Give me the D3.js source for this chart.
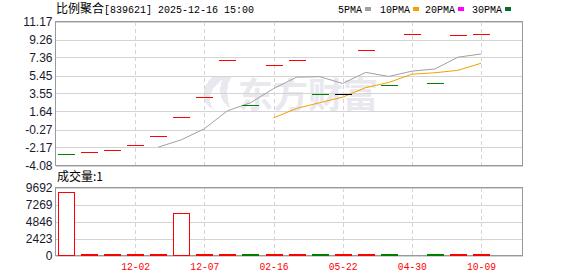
<!DOCTYPE html>
<html>
<head>
<meta charset="utf-8">
<script src="https://cdn.jsdelivr.net/npm/d3@7"></script>
<style>
  body { margin: 0; background: #fff; }
  svg { display: block; }
</style>
</head>
<body>
<div id="chart"></div>
<script>
// 每个交易日的收盘价（这里开高低收都一样，画成一条横线）
const closes = [-2.84, -2.63, -2.42, -1.89, -0.93, 1.08, 3.20, 7.11, 2.35, 6.58,
  7.11, 3.51, 3.51, 8.17, 4.47, 9.87, 4.68, 9.76, 9.87];
// 1 = 涨, -1 = 跌, 0 = 平
const candleDir = [-1, 1, 1, 1, 1, 1, 1, 1, -1, 1, 1, -1, 0, 1, -1, 1, -1, 1, 1];
const ma5 = [null, null, null, null, -2.14, -1.36, -0.19, 1.71, 2.56, 4.06,
  5.27, 5.33, 4.61, 5.78, 5.35, 5.91, 6.14, 7.39, 7.73];
const ma10 = [null, null, null, null, null, null, null, null, null, 0.96,
  1.96, 2.57, 3.16, 4.17, 4.71, 5.59, 5.74, 6.00, 6.75];
const volumes = [9080, 40, 40, 40, 40, 6040, 40, 40, 40, 40,
  40, 40, 40, 40, 40, 0, 40, 40, 40];
const volDir = [1, 1, 1, 1, 1, 1, 1, 1, -1, 1, 1, -1, 1, 1, -1, 1, -1, 1, 1];

const priceTicks = [11.17, 9.26, 7.36, 5.45, 3.55, 1.64, -0.27, -2.17, -4.08];
const volTicks = [9692, 7269, 4846, 2423, 0];
const dateTickIdx = [3, 6, 9, 12, 15, 18];
const dateTickLabels = ['12-02', '12-07', '02-16', '05-22', '04-30', '10-09'];

const legendNames = ['5PMA', '10PMA', '20PMA', '30PMA'];

const W = 578, H = 276;
const left = 55.5, right = 522.5;
const mainTop = 21.5, mainBottom = 165.5;
const volTop = 187.5, volBottom = 255.5;

const RED = '#ff0000', GREEN = '#008000', GRID = '#d4d4d4', FRAME = '#999999';
const legendColors = ['#a0a0a0', '#f5a000', '#ff00ff', '#006f30'];

const svg = d3.select('#chart').append('svg')
  .attr('width', W).attr('height', H)
  .style('shape-rendering', 'crispEdges');

const x = d3.scaleLinear().domain([0, 18]).range([66, 481]);
const y = d3.scaleLinear().domain([-4.08, 11.17]).range([mainBottom, mainTop]);
const yv = d3.scaleLinear().domain([0, 9692]).range([volBottom, volTop]);

const px = v => Math.round(v) + 0.5;

// 水印
const wm = svg.append('g').attr('fill', '#e8e8ee');
wm.append('path')
  .attr('d', 'M214,76 C200,86 200,104 214,110 C206,100 210,88 222,80 C218,92 220,102 230,108 C226,96 226,84 232,76 Z');
wm.append('text')
  .attr('x', 238).attr('y', 108)
  .attr('font-family', '"Noto Sans CJK SC"')
  .attr('font-weight', 'bold')
  .attr('font-size', 35)
  .text('东方财富');

// 标题
const title = svg.append('text')
  .attr('x', 56).attr('y', 13)
  .attr('fill', '#000');
title.append('tspan')
  .attr('font-family', '"Noto Sans CJK SC"').attr('font-size', 12)
  .text('比例聚合');
title.append('tspan')
  .attr('font-family', '"Liberation Mono"').attr('font-size', 10)
  .attr('textLength', 150).attr('lengthAdjust', 'spacingAndGlyphs')
  .text('[839621] 2025-12-16 15:00');

// 图例
const legendX = [338, 380, 425, 472];
const legend = svg.append('g');
legendNames.forEach((name, i) => {
  const tw = name.length * 6;
  legend.append('text')
    .attr('x', legendX[i]).attr('y', 13)
    .attr('font-family', '"Liberation Mono"').attr('font-size', 10)
    .attr('textLength', tw).attr('lengthAdjust', 'spacingAndGlyphs')
    .attr('fill', '#000')
    .text(name);
  legend.append('rect')
    .attr('x', legendX[i] + tw + 3).attr('y', 7)
    .attr('width', 6).attr('height', 4)
    .attr('fill', legendColors[i]);
});

// 网格 + 坐标
function drawPanel(top, bottom, ticks, scale, fmt) {
  const g = svg.append('g');
  g.append('g').selectAll('line')
    .data(ticks)
    .join('line')
    .attr('x1', left).attr('x2', right)
    .attr('y1', d => px(scale(d))).attr('y2', d => px(scale(d)))
    .attr('stroke', GRID);
  g.append('g').selectAll('line')
    .data(dateTickIdx)
    .join('line')
    .attr('x1', d => px(x(d))).attr('x2', d => px(x(d)))
    .attr('y1', top).attr('y2', bottom)
    .attr('stroke', GRID)
    .attr('stroke-dasharray', '4,3');
  g.append('rect')
    .attr('x', left).attr('y', top)
    .attr('width', right - left).attr('height', bottom - top)
    .attr('fill', 'none').attr('stroke', FRAME);
  g.append('g').selectAll('text')
    .data(ticks)
    .join('text')
    .attr('x', 52.5)
    .attr('y', d => scale(d) + 4.5)
    .attr('text-anchor', 'end')
    .attr('font-family', '"Liberation Sans", Arial')
    .attr('font-size', 12)
    .attr('fill', '#1a1a2e')
    .text(fmt);
}
drawPanel(mainTop, mainBottom, priceTicks, y, d => d.toFixed(2));
drawPanel(volTop, volBottom, volTicks, yv, d => d);

// 均线
const line = d3.line()
  .defined(d => d != null)
  .x((d, i) => x(i))
  .y(d => y(d));
svg.append('path')
  .datum(ma5)
  .attr('d', line)
  .attr('fill', 'none')
  .attr('stroke', '#a0a0a0')
  .attr('stroke-width', 1)
  .style('shape-rendering', 'auto');
svg.append('path')
  .datum(ma10)
  .attr('d', line)
  .attr('fill', 'none')
  .attr('stroke', '#f5a000')
  .attr('stroke-width', 1)
  .style('shape-rendering', 'auto');

// K线（一字线）
const candleColor = d => d > 0 ? RED : (d < 0 ? GREEN : '#000');
svg.append('g')
  .selectAll('rect')
  .data(closes)
  .join('rect')
  .attr('x', (d, i) => Math.round(x(i)) - 8)
  .attr('width', 17)
  .attr('y', d => Math.round(y(d)))
  .attr('height', 1)
  .attr('fill', (d, i) => candleColor(candleDir[i]));

// 成交量
svg.append('g')
  .selectAll('rect')
  .data(volumes.map((v, i) => ({ v, i })).filter(d => d.v > 0))
  .join('rect')
  .attr('x', d => Math.round(x(d.i)) - 7.5)
  .attr('width', 16)
  .attr('y', d => Math.min(px(yv(d.v)), volBottom - 1))
  .attr('height', d => Math.max(volBottom - px(yv(d.v)), 1))
  .attr('fill', d => volDir[d.i] > 0 ? '#fff' : GREEN)
  .attr('stroke', d => volDir[d.i] > 0 ? RED : GREEN);

svg.append('text')
  .attr('x', 57).attr('y', 181)
  .attr('font-family', '"Noto Sans CJK SC"').attr('font-size', 12)
  .attr('fill', '#000')
  .text('成交量:1');

// 日期
svg.append('g')
  .selectAll('text')
  .data(dateTickIdx)
  .join('text')
  .attr('x', d => x(d) + 0.5)
  .attr('y', 270)
  .attr('text-anchor', 'middle')
  .attr('font-family', '"Liberation Mono"')
  .attr('font-size', 11)
  .attr('textLength', 29).attr('lengthAdjust', 'spacingAndGlyphs')
  .attr('fill', RED)
  .text((d, i) => dateTickLabels[i]);
</script>
</body>
</html>
